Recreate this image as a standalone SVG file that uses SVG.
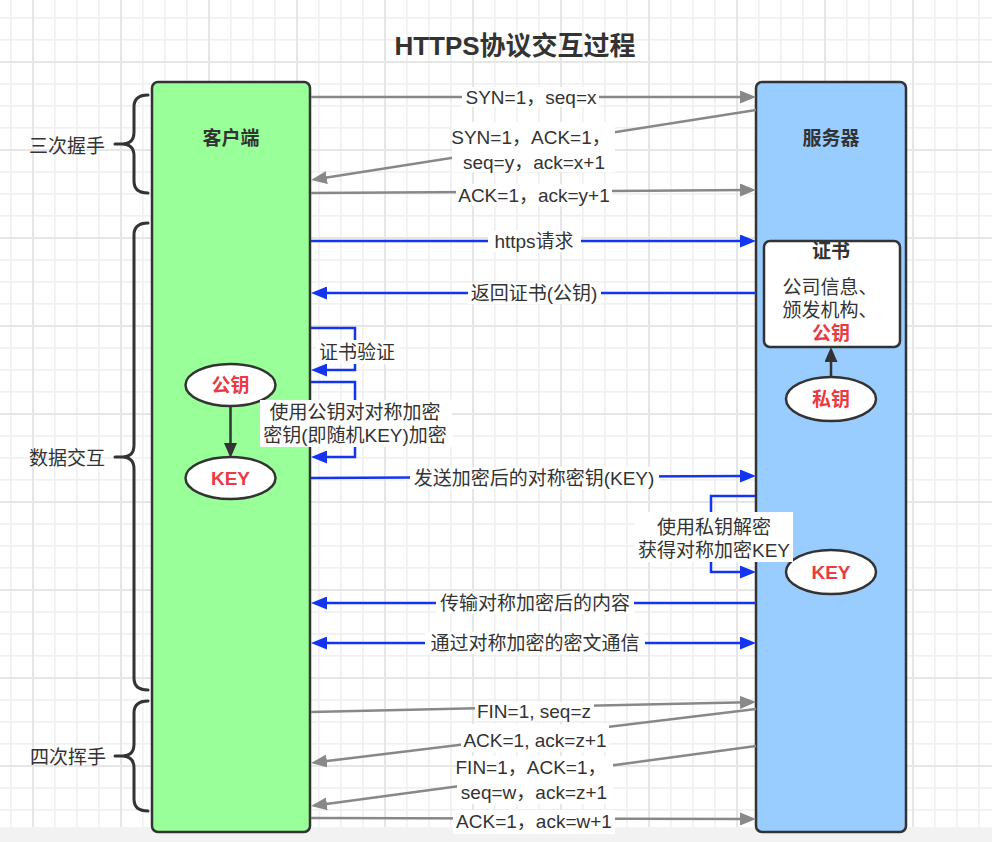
<svg xmlns="http://www.w3.org/2000/svg" width="992" height="842" viewBox="0 0 992 842">
<style>
text{font-family:"Liberation Sans","Noto Sans CJK SC",sans-serif;font-size:19px;fill:#333;text-anchor:middle}
.title{font-size:26px;font-weight:bold}
.bold{font-weight:bold}
.red{fill:#ea3a43;font-weight:bold}
.bg{fill:#fff}
.gray{stroke:#888;stroke-width:2.5;fill:none}
.blue{stroke:#1435f0;stroke-width:2.5;fill:none}
.blk{stroke:#333;stroke-width:2.5;fill:none}
.brace{stroke:#333;stroke-width:3;fill:none;stroke-linecap:round;stroke-linejoin:round}
.box{stroke:#333;stroke-width:2.5}
</style>
<defs>
<pattern id="grid" patternUnits="userSpaceOnUse" x="32" y="61" width="88" height="88">
<rect width="88" height="88" fill="#fff"/>
<rect x="22" width="1.6" height="88" fill="#f0f0f0"/>
<rect x="44" width="1.6" height="88" fill="#f0f0f0"/>
<rect x="66" width="1.6" height="88" fill="#f0f0f0"/>
<rect y="22" width="88" height="1.6" fill="#f0f0f0"/>
<rect y="44" width="88" height="1.6" fill="#f0f0f0"/>
<rect y="66" width="88" height="1.6" fill="#f0f0f0"/>
<rect x="0" width="2" height="88" fill="#e6e6e6"/>
<rect y="0" width="88" height="2" fill="#e6e6e6"/>
</pattern>
<marker id="ag" markerUnits="userSpaceOnUse" markerWidth="16" markerHeight="13" refX="8" refY="6.5" orient="auto"><path d="M0,0 L16,6.5 L0,13 z" fill="#888"/></marker>
<marker id="ab" markerUnits="userSpaceOnUse" markerWidth="16" markerHeight="13" refX="8" refY="6.5" orient="auto"><path d="M0,0 L16,6.5 L0,13 z" fill="#1435f0"/></marker>
<marker id="abs" markerUnits="userSpaceOnUse" markerWidth="16" markerHeight="13" refX="8" refY="6.5" orient="auto-start-reverse"><path d="M0,0 L16,6.5 L0,13 z" fill="#1435f0"/></marker>
<marker id="ak" markerUnits="userSpaceOnUse" markerWidth="15" markerHeight="13" refX="7" refY="6.5" orient="auto"><path d="M0,0 L15,6.5 L0,13 z" fill="#333"/></marker>
</defs>

<rect width="992" height="827" fill="url(#grid)"/>
<rect y="827" width="992" height="15" fill="#f2f2f2"/>

<text class="title" x="515" y="55">HTTPS协议交互过程</text>

<g id="brace-handshake">
<path class="brace" d="M148,95 Q134,95 134,107 L134,132 Q134,144 122,144 L115,144 M122,144 Q134,144 134,156 L134,181 Q134,193 148,193"/>
<text x="67" y="153">三次握手</text>
</g>
<g id="brace-data">
<path class="brace" d="M148,223 Q134,223 134,235 L134,445 Q134,457 122,457 L115,457 M122,457 Q134,457 134,469 L134,678 Q134,690 148,690"/>
<text x="67" y="465">数据交互</text>
</g>
<g id="brace-wave">
<path class="brace" d="M148,701 Q134,701 134,713 L134,744 Q134,756 122,756 L115,756 M122,756 Q134,756 134,768 L134,799 Q134,811 148,811"/>
<text x="68" y="764">四次挥手</text>
</g>

<g id="client">
<rect class="box" x="152" y="82" width="158" height="750" rx="6" fill="#99ff99"/>
<text class="bold" x="231" y="145">客户端</text>
</g>
<g id="server">
<rect class="box" x="756" y="82" width="150" height="750" rx="6" fill="#99ccff"/>
<text class="bold" x="831" y="145">服务器</text>
</g>
<g id="cert">
<rect class="box" x="764" y="241" width="136" height="106" rx="6" fill="#fff"/>
<text class="bold" x="831" y="258">证书</text>
<text x="830" y="294">公司信息、</text>
<text x="830" y="317">颁发机构、</text>
<text class="red" x="831" y="340">公钥</text>
</g>
<g id="private-key">
<ellipse class="box" cx="831" cy="399" rx="45" ry="22" fill="#fff"/>
<text class="red" x="831" y="406">私钥</text>
</g>
<g id="server-key">
<ellipse class="box" cx="831" cy="572" rx="45" ry="22" fill="#fff"/>
<text class="red" x="831" y="579">KEY</text>
</g>
<g id="client-pubkey">
<ellipse class="box" cx="230.5" cy="385" rx="45" ry="21" fill="#fff"/>
<text class="red" x="230.5" y="392">公钥</text>
</g>
<g id="client-key">
<ellipse class="box" cx="230.5" cy="478" rx="45" ry="21" fill="#fff"/>
<text class="red" x="230.5" y="485">KEY</text>
</g>

<g id="connectors">
<line class="gray" x1="311" y1="97" x2="748" y2="97" marker-end="url(#ag)"/>
<line class="gray" x1="756" y1="110" x2="318.9" y2="178.8" marker-end="url(#ag)"/>
<line class="gray" x1="311" y1="193" x2="748" y2="190" marker-end="url(#ag)"/>
<line class="blue" x1="311" y1="241" x2="748" y2="241" marker-end="url(#ab)"/>
<line class="blue" x1="756" y1="293" x2="319" y2="293" marker-end="url(#ab)"/>
<polyline class="blue" points="311,328 355,328 355,370 319,370" marker-end="url(#ab)"/>
<polyline class="blue" points="311,382 355,382 355,457 319,457" marker-end="url(#ab)"/>
<line class="blue" x1="311" y1="478" x2="748" y2="476" marker-end="url(#ab)"/>
<polyline class="blue" points="755,496 711,496 711,572 748,572" marker-end="url(#ab)"/>
<line class="blue" x1="756" y1="603" x2="319" y2="603" marker-end="url(#ab)"/>
<line class="blue" x1="319" y1="643" x2="748" y2="643" marker-start="url(#abs)" marker-end="url(#abs)"/>
<line class="gray" x1="311" y1="712" x2="748" y2="702.2" marker-end="url(#ag)"/>
<line class="gray" x1="756" y1="709" x2="318.9" y2="762" marker-end="url(#ag)"/>
<line class="gray" x1="756" y1="746" x2="318.9" y2="804.9" marker-end="url(#ag)"/>
<line class="gray" x1="311" y1="818" x2="748" y2="819" marker-end="url(#ag)"/>
<line class="blk" x1="230.5" y1="406" x2="230.5" y2="450" marker-end="url(#ak)"/>
<line class="blk" x1="831" y1="377" x2="831" y2="355" marker-end="url(#ak)"/>

<g id="labels">
<rect class="bg" x="462" y="87" width="137" height="20"/>
<rect class="bg" x="452" y="122" width="163" height="50"/>
<rect class="bg" x="456" y="184" width="156" height="22"/>
<rect class="bg" x="488" y="231" width="93" height="21"/>
<rect class="bg" x="468" y="283" width="133" height="21"/>
<rect class="bg" x="316" y="340" width="83" height="24"/>
<rect class="bg" x="260" y="400" width="192" height="47"/>
<rect class="bg" x="410" y="467" width="249" height="22"/>
<rect class="bg" x="635" y="512" width="158" height="50"/>
<rect class="bg" x="436" y="592" width="198" height="22"/>
<rect class="bg" x="425" y="632" width="220" height="22"/>
<rect class="bg" x="475" y="702" width="119" height="19"/>
<rect class="bg" x="461" y="724" width="148" height="28"/>
<rect class="bg" x="457" y="756" width="156" height="48"/>
<rect class="bg" x="453" y="810" width="162" height="24"/>

<text x="531" y="104">SYN=1，seq=x</text>
<text x="531" y="144">SYN=1，ACK=1，</text>
<text x="534" y="169">seq=y，ack=x+1</text>
<text x="534" y="202">ACK=1，ack=y+1</text>
<text x="534" y="248">https请求</text>
<text x="534" y="300">返回证书(公钥)</text>
<text x="357" y="359">证书验证</text>
<text x="355" y="419">使用公钥对对称加密</text>
<text x="355" y="442">密钥(即随机KEY)加密</text>
<text x="534" y="485">发送加密后的对称密钥(KEY)</text>
<text x="714" y="534">使用私钥解密</text>
<text x="714" y="557">获得对称加密KEY</text>
<text x="535" y="610">传输对称加密后的内容</text>
<text x="535" y="650">通过对称加密的密文通信</text>
<text x="534" y="718">FIN=1, seq=z</text>
<text x="535" y="747">ACK=1, ack=z+1</text>
<text x="531" y="774">FIN=1，ACK=1，</text>
<text x="534" y="799">seq=w，ack=z+1</text>
<text x="534" y="828">ACK=1，ack=w+1</text>
</g>
</g>
</svg>
